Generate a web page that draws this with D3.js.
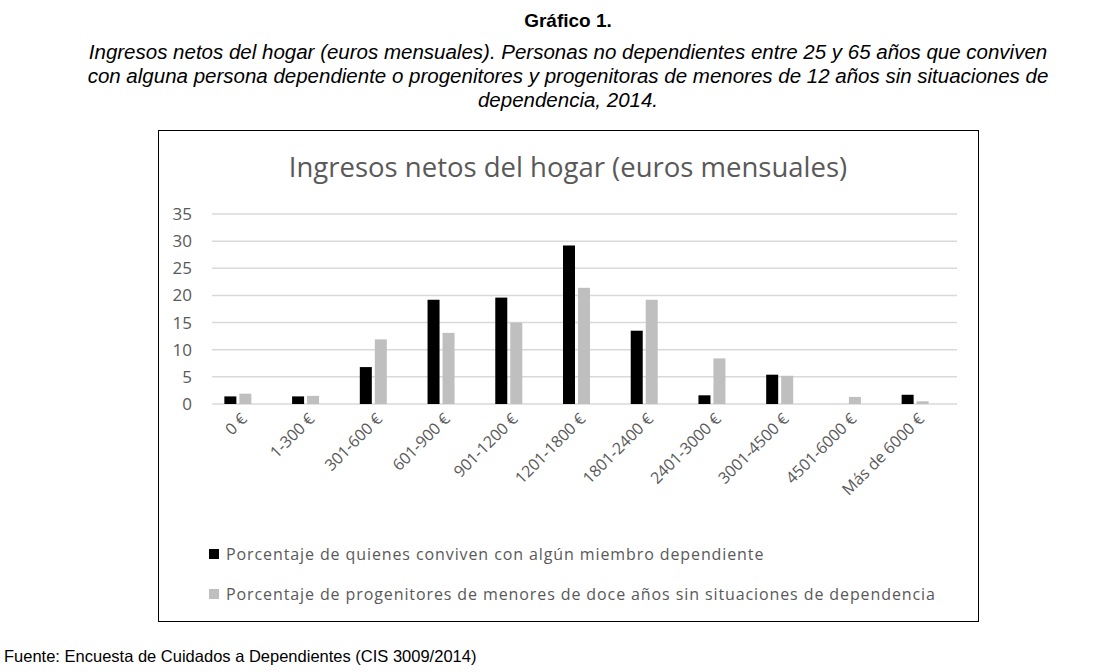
<!DOCTYPE html>
<html><head><meta charset="utf-8">
<script src="https://cdn.jsdelivr.net/npm/d3@7"></script>
<style>body{margin:0;background:#fff;font-family:"Liberation Sans",Arial,sans-serif}</style>
</head><body><svg id="c" width="1120" height="672"></svg>
<script>
const categories = ["0 €","1-300 €","301-600 €","601-900 €","901-1200 €","1201-1800 €","1801-2400 €","2401-3000 €","3001-4500 €","4501-6000 €","Más de 6000 €"];
const dependientes = [1.4,1.4,6.8,19.2,19.6,29.2,13.5,1.6,5.4,0,1.7];
const progenitores = [1.9,1.5,11.9,13.1,15.0,21.4,19.2,8.4,5.2,1.3,0.5];
const yTicks = [0,5,10,15,20,25,30,35];
const seriesNames = ["Porcentaje de quienes conviven con algún miembro dependiente","Porcentaje de progenitores de menores de doce años sin situaciones de dependencia"];
const colors = ["#000000","#bfbfbf"];

const svg = d3.select("#c");
// heading
svg.append("text").attr("x",568).attr("y",27).attr("text-anchor","middle").attr("font-size",19).attr("font-weight","bold").text("Gráfico 1.");
const sub = ["Ingresos netos del hogar (euros mensuales). Personas no dependientes entre 25 y 65 años que conviven","con alguna persona dependiente o progenitores y progenitoras de menores de 12 años sin situaciones de","dependencia, 2014."];
sub.forEach((s,i)=>svg.append("text").attr("x",568).attr("y",59+i*24).attr("text-anchor","middle").attr("font-size",20.5).attr("font-style","italic").attr("textLength",i<2?null:null).text(s));
svg.append("text").attr("x",4).attr("y",662).attr("font-size",16.5).text("Fuente: Encuesta de Cuidados a Dependientes (CIS 3009/2014)");

// chart frame
svg.append("rect").attr("x",158.5).attr("y",130.5).attr("width",820).attr("height",491).attr("fill","none").attr("stroke","#000").attr("stroke-width",1);
svg.append("text").attr("x",568).attr("y",177).attr("text-anchor","middle").attr("font-family","'Open Sans',sans-serif").attr("font-size",27.5).attr("fill","#595959").text("Ingresos netos del hogar (euros mensuales)");

const x = d3.scaleBand().domain(categories).range([212,957]);
const y = d3.scaleLinear().domain([0,35]).range([404,214]);
const g = svg.append("g");
yTicks.forEach(t=>{
  g.append("line").attr("x1",212).attr("x2",957).attr("y1",y(t)).attr("y2",y(t)).attr("stroke","#d9d9d9").attr("stroke-width",1.5);
  g.append("text").attr("x",192).attr("y",y(t)+6).attr("text-anchor","end").attr("font-family","'Open Sans',sans-serif").attr("font-size",17).attr("fill","#595959").text(t);
});
const bw = 12;
[dependientes,progenitores].forEach((arr,si)=>{
  g.selectAll(null).data(arr).enter().append("rect")
    .attr("x",(d,i)=>x(categories[i])+x.bandwidth()/2-8-bw-1.5+si*(bw+3))
    .attr("y",d=>y(d)).attr("width",bw).attr("height",d=>y(0)-y(d)).attr("fill",colors[si]);
});
categories.forEach(c=>{
  const cx=x(c)+x.bandwidth()/2+2, cy=420;
  g.append("text").attr("transform",`translate(${cx},${cy}) rotate(-45)`).attr("text-anchor","end")
   .attr("font-family","'Open Sans',sans-serif").attr("font-size",16).attr("fill","#595959").text(c);
});
seriesNames.forEach((n,i)=>{
  const ly=560+i*40;
  svg.append("rect").attr("x",209).attr("y",ly-11).attr("width",10).attr("height",10).attr("fill",colors[i]);
  svg.append("text").attr("x",226).attr("y",ly).attr("font-family","'Open Sans',sans-serif").attr("font-size",16).attr("letter-spacing",0.9).attr("fill","#595959").text(n);
});
</script></body></html>
